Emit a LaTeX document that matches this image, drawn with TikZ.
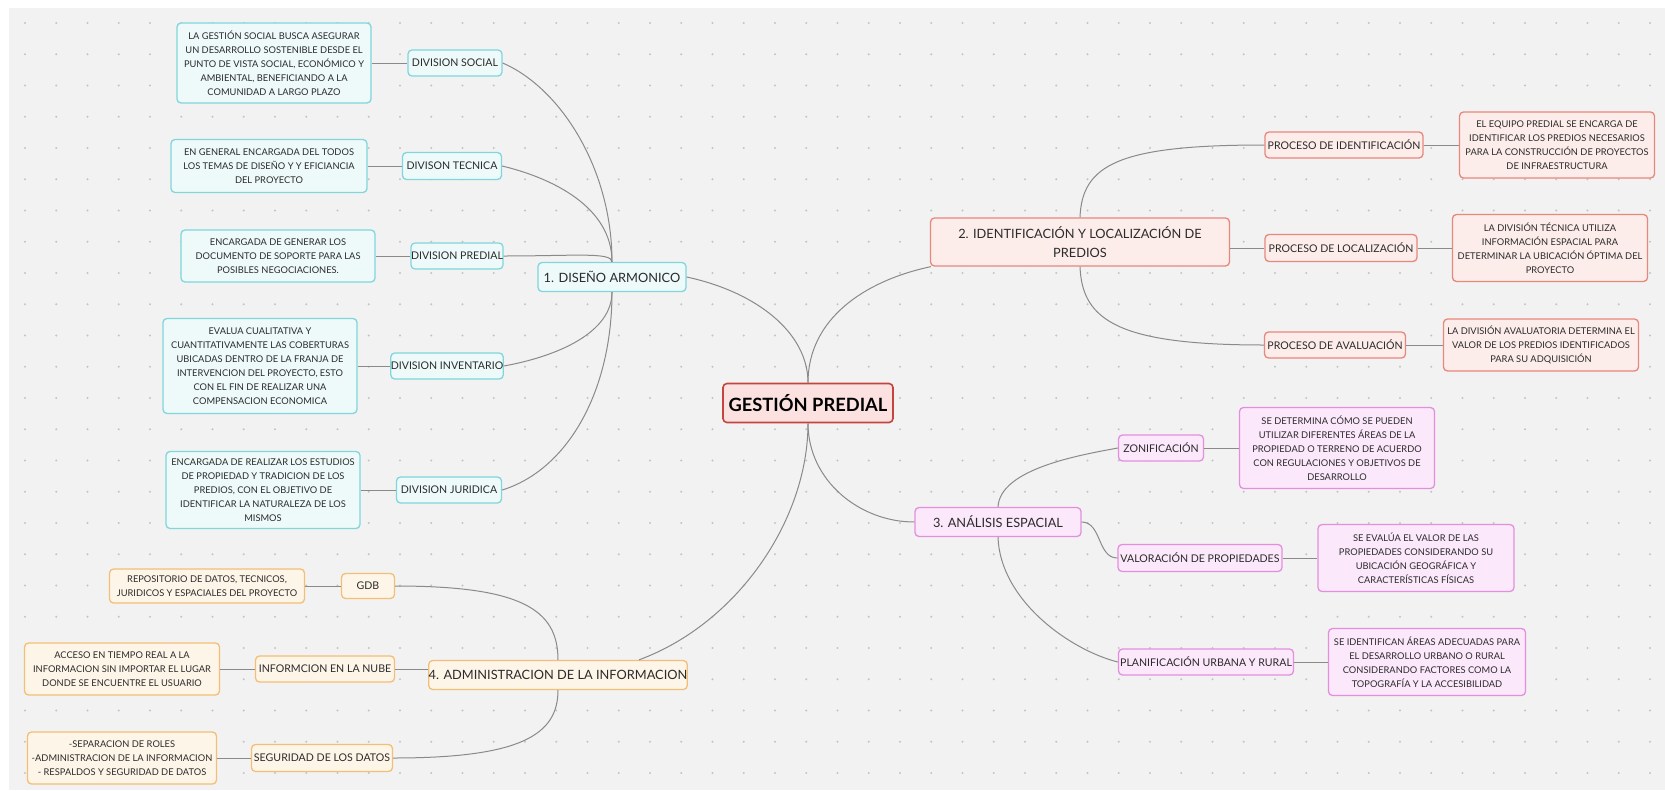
\documentclass[tikz,border=0pt]{standalone}
\usepackage{fontspec}
\setmainfont{Lato}
\usetikzlibrary{calc}

\definecolor{bgc}{HTML}{F2F2F2}
\definecolor{dotc}{HTML}{C4C4C4}
\definecolor{linec}{HTML}{8A8A8A}
\definecolor{txt}{HTML}{2B2B2B}
\definecolor{tealB}{HTML}{80D6DB}
\definecolor{tealF}{HTML}{EEFAFA}
\definecolor{redB}{HTML}{E8877C}
\definecolor{redF}{HTML}{FDEDEA}
\definecolor{coreB}{HTML}{C4453F}
\definecolor{coreF}{HTML}{FBE1DF}
\definecolor{pinkB}{HTML}{E38FDD}
\definecolor{pinkF}{HTML}{FCE8FB}
\definecolor{orB}{HTML}{F3BF78}
\definecolor{orF}{HTML}{FEF5E9}

\tikzset{
  box/.style={rounded corners=4pt, line width=1.3pt, align=center, inner sep=0pt, text=txt},
  detail/.style={box, font=\fontsize{9.3}{14}\selectfont},
  sub/.style={box, font=\fontsize{10.6}{13}\selectfont, minimum height=26pt},
  topic/.style={box, font=\fontsize{12.8}{19}\selectfont, minimum height=29pt},
  core/.style={box, draw=coreB, fill=coreF, text=black, line width=1.6pt,
    font=\fontsize{18.3}{22}\selectfont\bfseries},
  teal/.style={draw=tealB, fill=tealF},
  salmon/.style={draw=redB, fill=redF},
  orchid/.style={draw=pinkB, fill=pinkF},
  amber/.style={draw=orB, fill=orF},
  link/.style={draw=linec, line width=1pt},
}

\begin{document}
\begin{tikzpicture}[x=1pt, y=-1pt]
\useasboundingbox (0,0) rectangle (1665,790);
% canvas with dotted grid
\fill[white] (0,0) rectangle (1665,790);
\fill[bgc] (9,8) rectangle (1665,790);
\foreach \i in {0,...,52}
  \foreach \j in {0,...,24}
    \fill[dotc] (25+\i*31.25, 23+\j*31.25) circle (1.2pt);

% ---------- central topic ----------
\node[core, minimum width=170pt, minimum height=39pt] (gestion) at (808,403) {GESTIÓN PREDIAL};

% ---------- 1. diseño armonico ----------
\node[topic, teal, minimum width=148pt] (diseno) at (612,277) {1. DISEÑO ARMONICO};

\node[sub, teal, minimum width=94pt] (social) at (455,63) {DIVISION SOCIAL};
\node[detail, teal, minimum width=194pt, minimum height=80pt] (dsocial) at (274,63)
  {LA GESTIÓN SOCIAL BUSCA ASEGURAR\\UN DESARROLLO SOSTENIBLE DESDE EL\\PUNTO DE VISTA SOCIAL, ECONÓMICO Y\\AMBIENTAL, BENEFICIANDO A LA\\COMUNIDAD A LARGO PLAZO};

\node[sub, teal, minimum width=99pt, minimum height=27pt] (tec) at (452,166) {DIVISON TECNICA};
\node[detail, teal, minimum width=196pt, minimum height=53pt] (dtec) at (269,166)
  {EN GENERAL ENCARGADA DEL TODOS\\LOS TEMAS DE DISEÑO Y Y EFICIANCIA\\DEL PROYECTO};

\node[sub, teal, minimum width=90pt] (pred) at (457,256) {DIVISION PREDIAL};
\node[detail, teal, minimum width=194pt, minimum height=52pt] (dpred) at (278,256)
  {ENCARGADA DE GENERAR LOS\\DOCUMENTO DE SOPORTE PARA LAS\\POSIBLES NEGOCIACIONES.};

\node[sub, teal, minimum width=109pt] (inv) at (447,366) {DIVISION INVENTARIO};
\node[detail, teal, minimum width=194pt, minimum height=95pt] (dinv) at (260,366)
  {EVALUA CUALITATIVA Y\\CUANTITATIVAMENTE LAS COBERTURAS\\UBICADAS DENTRO DE LA FRANJA DE\\INTERVENCION DEL PROYECTO, ESTO\\CON EL FIN DE REALIZAR UNA\\COMPENSACION ECONOMICA};

\node[sub, teal, minimum width=105pt] (jur) at (449,490) {DIVISION JURIDICA};
\node[detail, teal, minimum width=194pt, minimum height=77pt] (djur) at (263,490)
  {ENCARGADA DE REALIZAR LOS ESTUDIOS\\DE PROPIEDAD Y TRADICION DE LOS\\PREDIOS, CON EL OBJETIVO DE\\IDENTIFICAR LA NATURALEZA DE LOS\\MISMOS};

% ---------- 4. administracion de la informacion ----------
\node[topic, amber, minimum width=256pt] (admin) at (558,675) {4. ADMINISTRACION DE LA INFORMACION};

\node[sub, amber, minimum width=53pt, minimum height=25pt] (gdb) at (368,586) {GDB};
\node[detail, amber, minimum width=195pt, minimum height=34pt] (drepo) at (207,586)
  {REPOSITORIO DE DATOS, TECNICOS,\\JURIDICOS Y ESPACIALES DEL PROYECTO};

\node[sub, amber, minimum width=139pt] (nube) at (325,669) {INFORMCION EN LA NUBE};
\node[detail, amber, minimum width=195pt, minimum height=52pt] (dnube) at (122,669)
  {ACCESO EN TIEMPO REAL A LA\\INFORMACION SIN IMPORTAR EL LUGAR\\DONDE SE ENCUENTRE EL USUARIO};

\node[sub, amber, minimum width=141pt, minimum height=27pt] (seg) at (322,758) {SEGURIDAD DE LOS DATOS};
\node[detail, amber, minimum width=189pt, minimum height=52pt] (dseg) at (122,758)
  {-SEPARACION DE ROLES\\-ADMINISTRACION DE LA INFORMACION\\- RESPALDOS Y SEGURIDAD DE DATOS};

% ---------- 2. identificacion y localizacion ----------
\node[topic, salmon, minimum width=299pt, minimum height=48pt] (ident) at (1080,242)
  {2. IDENTIFICACIÓN Y LOCALIZACIÓN DE\\PREDIOS};

\node[sub, salmon, minimum width=158pt] (pident) at (1344,145) {PROCESO DE IDENTIFICACIÓN};
\node[detail, salmon, minimum width=195pt, minimum height=66pt] (dpident) at (1557,145)
  {EL EQUIPO PREDIAL SE ENCARGA DE\\IDENTIFICAR LOS PREDIOS NECESARIOS\\PARA LA CONSTRUCCIÓN DE PROYECTOS\\DE INFRAESTRUCTURA};

\node[sub, salmon, minimum width=152pt, minimum height=27pt] (ploc) at (1341,248) {PROCESO DE LOCALIZACIÓN};
\node[detail, salmon, minimum width=195pt, minimum height=67pt] (dploc) at (1550,248)
  {LA DIVISIÓN TÉCNICA UTILIZA\\INFORMACIÓN ESPACIAL PARA\\DETERMINAR LA UBICACIÓN ÓPTIMA DEL\\PROYECTO};

\node[sub, salmon, minimum width=141pt] (paval) at (1335,345) {PROCESO DE AVALUACIÓN};
\node[detail, salmon, minimum width=195pt, minimum height=52pt] (dpaval) at (1541,345)
  {LA DIVISIÓN AVALUATORIA DETERMINA EL\\VALOR DE LOS PREDIOS IDENTIFICADOS\\PARA SU ADQUISICIÓN};

% ---------- 3. analisis espacial ----------
\node[topic, orchid, minimum width=166pt] (analisis) at (998,522) {3. ANÁLISIS ESPACIAL};

\node[sub, orchid, minimum width=85pt] (zonif) at (1161,448) {ZONIFICACIÓN};
\node[detail, orchid, minimum width=195pt, minimum height=81pt] (dzonif) at (1337,448)
  {SE DETERMINA CÓMO SE PUEDEN\\UTILIZAR DIFERENTES ÁREAS DE LA\\PROPIEDAD O TERRENO DE ACUERDO\\CON REGULACIONES Y OBJETIVOS DE\\DESARROLLO};

\node[sub, orchid, minimum width=164pt, minimum height=27pt] (valor) at (1200,558) {VALORACIÓN DE PROPIEDADES};
\node[detail, orchid, minimum width=196pt, minimum height=67pt] (dvalor) at (1416,558)
  {SE EVALÚA EL VALOR DE LAS\\PROPIEDADES CONSIDERANDO SU\\UBICACIÓN GEOGRÁFICA Y\\CARACTERÍSTICAS FÍSICAS};

\node[sub, orchid, minimum width=175pt] (plan) at (1206,662) {PLANIFICACIÓN URBANA Y RURAL};
\node[detail, orchid, minimum width=197pt, minimum height=67pt] (dplan) at (1427,662)
  {SE IDENTIFICAN ÁREAS ADECUADAS PARA\\EL DESARROLLO URBANO O RURAL\\CONSIDERANDO FACTORES COMO LA\\TOPOGRAFÍA Y LA ACCESIBILIDAD};

% ---------- connectors ----------
% central topic to main topics
\draw[link] (diseno.east) .. controls ($(diseno.east)+(70,15)$) and ($(gestion.north)+(0,-50)$) .. (gestion.north);
\draw[link] (gestion.north) .. controls ($(gestion.north)+(0,-64)$) and ($(ident.south west)+(-65,14)$) .. ($(ident.south west)+(1,0)$);
\draw[link] (gestion.south) .. controls ($(gestion.south)+(0,57)$) and ($(analisis.west)+(-55,0)$) .. (analisis.west);
\draw[link] (gestion.south) .. controls ($(gestion.south)+(0,97)$) and ($(admin.north east)+(49,-36)$) .. ($(admin.north east)+(-49,0)$);

% diseño armonico branches
\draw[link] (social.east) .. controls ($(social.east)+(58,25)$) and ($(diseno.north)+(0,-93)$) .. (diseno.north);
\draw[link] (tec.east) .. controls ($(tec.east)+(50,12)$) and ($(diseno.north)+(0,-55)$) .. (diseno.north);
\draw[link] (pred.east) .. controls ($(pred.east)+(70,0)$) and ($(diseno.north)+(0,-10)$) .. (diseno.north);
\draw[link] (inv.east) .. controls ($(inv.east)+(55,-10)$) and ($(diseno.south)+(0,40)$) .. (diseno.south);
\draw[link] (jur.east) .. controls ($(jur.east)+(65,-20)$) and ($(diseno.south)+(0,100)$) .. (diseno.south);
\draw[link] (dsocial.east) -- (social.west);
\draw[link] (dtec.east) -- (tec.west);
\draw[link] (dpred.east) -- (pred.west);
\draw[link] (dinv.east) -- (inv.west);
\draw[link] (djur.east) -- (jur.west);

% administracion branches
\draw[link] (gdb.east) .. controls ($(gdb.east)+(125,0)$) and ($(admin.north)+(0,-51)$) .. (admin.north);
\draw[link] (seg.east) .. controls ($(seg.east)+(127,0)$) and ($(admin.south)+(0,45)$) .. (admin.south);
\draw[link] (nube.east) -- (nube.east -| admin.west);
\draw[link] (drepo.east) -- (gdb.west);
\draw[link] (dnube.east) -- (nube.west);
\draw[link] (dseg.east) -- (seg.west);

% identificacion branches
\draw[link] (ident.north) .. controls ($(ident.north)+(2,-53)$) and ($(pident.west)+(-145,0)$) .. (pident.west);
\draw[link] (ident.south) .. controls ($(ident.south)+(2,54)$) and ($(paval.west)+(-145,0)$) .. (paval.west);
\draw[link] (ploc.west -| ident.east) -- (ploc.west);
\draw[link] (pident.east) -- (dpident.west);
\draw[link] (ploc.east) -- (dploc.west);
\draw[link] (paval.east) -- (dpaval.west);

% analisis branches
\draw[link] (analisis.north) .. controls ($(analisis.north)+(2,-38)$) and ($(zonif.west)+(-38,7)$) .. (zonif.west);
\draw[link] (analisis.east) .. controls ($(analisis.east)+(20,0)$) and ($(valor.west)+(-20,0)$) .. (valor.west);
\draw[link] (analisis.south) .. controls ($(analisis.south)+(2,63)$) and ($(plan.west)+(-48,-12)$) .. (plan.west);
\draw[link] (zonif.east) -- (dzonif.west);
\draw[link] (valor.east) -- (dvalor.west);
\draw[link] (plan.east) -- (dplan.west);
\end{tikzpicture}
\end{document}
